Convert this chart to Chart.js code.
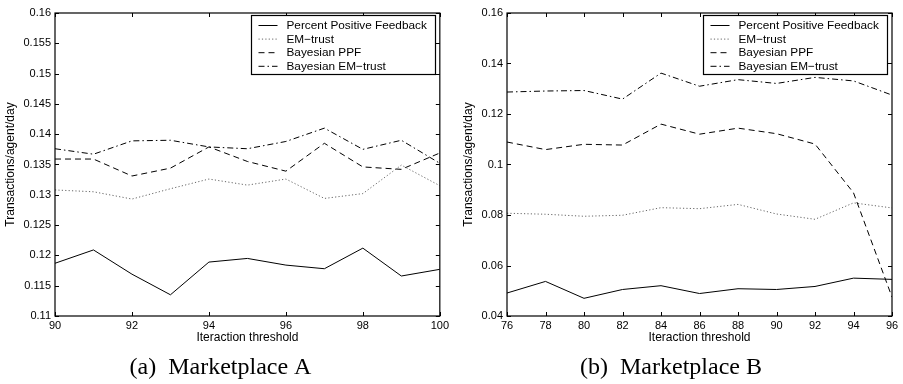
<!DOCTYPE html>
<html>
<head>
<meta charset="utf-8">
<script src="https://cdn.jsdelivr.net/npm/chart.js@4.4.0/dist/chart.umd.min.js"></script>
<style>
  html, body { margin: 0; padding: 0; background: #fff; width: 903px; height: 384px; overflow: hidden; }
  canvas { position: absolute; top: 0; }
  #chartA { left: 0; }
  #chartB { left: 450px; }
</style>
</head>
<body>
<canvas id="chartA" width="452" height="384"></canvas>
<canvas id="chartB" width="453" height="384"></canvas>
<script>
// ---- Marketplace A ----
const thresholdsA = [90, 91, 92, 93, 94, 95, 96, 97, 98, 99, 100];
const ppfA      = [0.1187, 0.1209, 0.1169, 0.1135, 0.1189, 0.1195, 0.1184, 0.1178, 0.1212, 0.1166, 0.1177];
const emTrustA  = [0.1308, 0.1305, 0.1293, 0.1310, 0.1326, 0.1316, 0.1326, 0.1294, 0.1302, 0.1349, 0.1315];
const bayesPpfA = [0.1359, 0.1359, 0.1331, 0.1344, 0.1379, 0.1355, 0.1339, 0.1385, 0.1346, 0.1342, 0.1369];
const bayesEmA  = [0.1376, 0.1367, 0.1389, 0.1390, 0.1379, 0.1376, 0.1388, 0.1410, 0.1375, 0.1390, 0.1352];
const xTicksA = [90, 92, 94, 96, 98, 100];
const yTicksA = [0.11, 0.115, 0.12, 0.125, 0.13, 0.135, 0.14, 0.145, 0.15, 0.155, 0.16];

// ---- Marketplace B ----
const thresholdsB = [76, 78, 80, 82, 84, 86, 88, 90, 92, 94, 96];
const ppfB      = [0.0491, 0.0537, 0.0470, 0.0505, 0.0520, 0.0489, 0.0508, 0.0505, 0.0517, 0.0550, 0.0545];
const emTrustB  = [0.0807, 0.0803, 0.0795, 0.0799, 0.0829, 0.0825, 0.0842, 0.0804, 0.0783, 0.0848, 0.0828];
const bayesPpfB = [0.1089, 0.1059, 0.1080, 0.1077, 0.1160, 0.1120, 0.1144, 0.1122, 0.1081, 0.0888, 0.0475];
const bayesEmB  = [0.1287, 0.1291, 0.1293, 0.1259, 0.1362, 0.1310, 0.1336, 0.1321, 0.1345, 0.1331, 0.1275];
const xTicksB = [76, 78, 80, 82, 84, 86, 88, 90, 92, 94, 96];
const yTicksB = [0.04, 0.06, 0.08, 0.1, 0.12, 0.14, 0.16];

const seriesNames = ['Percent Positive Feedback', 'EM\u2212trust', 'Bayesian PPF', 'Bayesian EM\u2212trust'];

const SANS = '"Liberation Sans", Arial, Helvetica, sans-serif';
const SERIF = '"Liberation Serif", "Times New Roman", serif';
Chart.defaults.font.family = SANS;
Chart.defaults.color = '#000';

const lineStyles = [
  { borderColor: '#000', borderWidth: 1, borderDash: [] },
  { borderColor: '#666', borderWidth: 1, borderDash: [1.2, 2.2] },
  { borderColor: '#000', borderWidth: 1, borderDash: [6, 4] },
  { borderColor: '#000', borderWidth: 1, borderDash: [6, 3, 1.5, 3] }
];

function makeDatasets(xs, seriesList) {
  return seriesList.map((ys, i) => Object.assign({
    label: seriesNames[i],
    data: xs.map((x, j) => ({ x: x, y: ys[j] })),
    pointRadius: 0,
    tension: 0,
    fill: false
  }, lineStyles[i]));
}

// Axes box with inward tick marks on all four sides, plus a boxed legend
const framePlugin = {
  id: 'frame',
  afterDatasetsDraw(chart) {
    const { ctx, chartArea: a, scales } = chart;
    ctx.save();
    ctx.strokeStyle = '#000';
    ctx.lineWidth = 1.2;
    ctx.setLineDash([]);
    ctx.strokeRect(a.left, a.top, a.right - a.left, a.bottom - a.top);
    ctx.lineWidth = 1;
    const tl = 4;
    ctx.beginPath();
    scales.x.ticks.forEach(t => {
      const px = Math.round(scales.x.getPixelForValue(t.value)) + 0.5;
      ctx.moveTo(px, a.bottom); ctx.lineTo(px, a.bottom - tl);
      ctx.moveTo(px, a.top); ctx.lineTo(px, a.top + tl);
    });
    scales.y.ticks.forEach(t => {
      const py = Math.round(scales.y.getPixelForValue(t.value)) + 0.5;
      ctx.moveTo(a.left, py); ctx.lineTo(a.left + tl, py);
      ctx.moveTo(a.right, py); ctx.lineTo(a.right - tl, py);
    });
    ctx.stroke();

    // legend
    const w = 184, h = 59;
    const bx = Math.round(a.right - 5 - w) + 0.5;
    const by = Math.round(a.top + 2) + 0.5;
    ctx.fillStyle = '#fff';
    ctx.fillRect(bx, by, w, h);
    ctx.strokeStyle = '#000';
    ctx.lineWidth = 1.2;
    ctx.strokeRect(bx, by, w, h);
    ctx.font = '11.8px ' + SANS;
    ctx.textBaseline = 'middle';
    ctx.textAlign = 'left';
    chart.data.datasets.forEach((ds, i) => {
      const ry = by + 10 + i * 13.6;
      ctx.strokeStyle = ds.borderColor;
      ctx.lineWidth = ds.borderWidth;
      ctx.setLineDash(ds.borderDash || []);
      ctx.beginPath();
      ctx.moveTo(bx + 7, ry); ctx.lineTo(bx + 26, ry);
      ctx.stroke();
      ctx.setLineDash([]);
      ctx.fillStyle = '#000';
      ctx.fillText(ds.label, bx + 35, ry + 0.5);
    });
    ctx.restore();
  }
};

function makeChart(id, cfg) {
  return new Chart(document.getElementById(id), {
    type: 'line',
    data: { datasets: makeDatasets(cfg.xs, cfg.series) },
    options: {
      responsive: false,
      animation: false,
      devicePixelRatio: 1,
      layout: { padding: { left: 0, top: 13, right: cfg.padRight, bottom: 1.6 } },
      plugins: {
        legend: { display: false },
        tooltip: { enabled: false },
        title: {
          display: true,
          position: 'bottom',
          text: cfg.caption,
          color: '#000',
          font: { family: SERIF, size: 24, weight: 'normal' },
          padding: { top: 7.6, bottom: 0 }
        }
      },
      scales: {
        x: {
          type: 'linear',
          min: cfg.xs[0],
          max: cfg.xs[cfg.xs.length - 1],
          afterBuildTicks: s => { s.ticks = cfg.xTicks.map(v => ({ value: v })); },
          afterFit: s => { s.height = 30; },
          grid: { display: false, drawTicks: false },
          border: { display: false },
          ticks: { color: '#000', font: { size: 11 }, padding: 3, maxRotation: 0, autoSkip: false, callback: v => String(v) },
          title: { display: true, text: 'Iteraction threshold', color: '#000', font: { size: 12 }, padding: { top: 0, bottom: 1 } }
        },
        y: {
          min: cfg.yTicks[0],
          max: cfg.yTicks[cfg.yTicks.length - 1],
          afterBuildTicks: s => { s.ticks = cfg.yTicks.map(v => ({ value: v })); },
          afterFit: s => { s.width = cfg.yWidth; },
          grid: { display: false, drawTicks: false },
          border: { display: false },
          ticks: { color: '#000', font: { size: 11 }, padding: 4, autoSkip: false, callback: v => String(+v.toFixed(3)) },
          title: { display: true, text: 'Transactions/agent/day', color: '#000', font: { size: 12 }, padding: { top: cfg.titlePad, bottom: 0 } }
        }
      }
    },
    plugins: [framePlugin]
  });
}

makeChart('chartA', {
  xs: thresholdsA,
  series: [ppfA, emTrustA, bayesPpfA, bayesEmA],
  xTicks: xTicksA,
  yTicks: yTicksA,
  caption: '(a)  Marketplace A',
  padRight: 11,
  yWidth: 55,
  titlePad: 3.8
});

makeChart('chartB', {
  xs: thresholdsB,
  series: [ppfB, emTrustB, bayesPpfB, bayesEmB],
  xTicks: xTicksB,
  yTicks: yTicksB,
  caption: '(b)  Marketplace B',
  padRight: 11,
  yWidth: 57,
  titlePad: 11.8
});
</script>
</body>
</html>
